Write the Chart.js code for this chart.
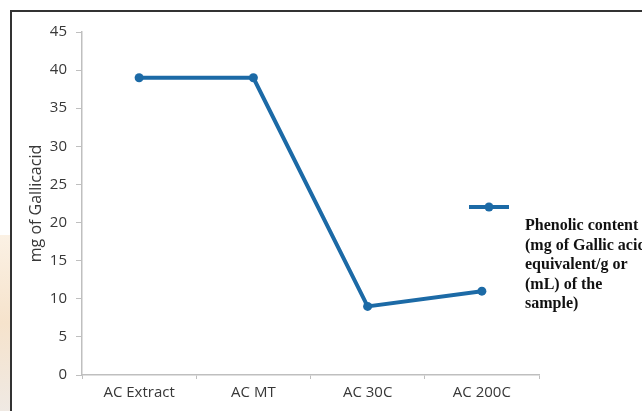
<!DOCTYPE html>
<html>
<head>
<meta charset="utf-8">
<script src="https://cdn.jsdelivr.net/npm/chart.js@4"></script>
<style>
    html, body { margin: 0; padding: 0; background: #ffffff; }
    #wrap { position: relative; width: 642px; height: 411px; overflow: hidden; }
    #frame { position: absolute; left: 10px; top: 10px; width: 700px; height: 500px; border-top: 2px solid #333333; border-left: 2px solid #333333; }
    #smear { position: absolute; left: 0; top: 235px; width: 10px; height: 176px; background: linear-gradient(#fbf1e4, #f6e3cc 50%, #efe9e3); }
    canvas { position: absolute; left: 0; top: 0; }
</style>
</head>
<body>
<div id="wrap">
    <div id="smear"></div>
    <div id="frame"></div>
    <canvas id="chart" width="642" height="411"></canvas>
</div>
<script>
const categories = ["AC Extract", "AC MT", "AC 30C", "AC 200C"];
const phenolicValues = [39, 39, 9, 11];
const seriesLabel = ["Phenolic content", "(mg of Gallic acid", "equivalent/g or", "(mL) of the", "sample)"];
const yTitle = "mg of Gallicacid";

const lineColor = "#1c6aa6";
const axisColor = "#bfbfbf";
const textColor = "#383838";
const tickFont = { family: "'Open Sans', Lato, sans-serif", size: 15 };

// legend drawn by hand: the series name wraps over five lines
const sideLegend = {
    id: "sideLegend",
    afterDraw(chart) {
        const ctx = chart.ctx;
        const dataset = chart.data.datasets[0];
        const x0 = 469;
        const y0 = 207;
        ctx.save();
        ctx.strokeStyle = dataset.borderColor;
        ctx.lineWidth = 4;
        ctx.beginPath();
        ctx.moveTo(x0, y0);
        ctx.lineTo(x0 + 40, y0);
        ctx.stroke();
        ctx.fillStyle = dataset.borderColor;
        ctx.beginPath();
        ctx.arc(x0 + 20, y0, 4.5, 0, Math.PI * 2);
        ctx.fill();

        ctx.fillStyle = "#111111";
        ctx.font = "bold 16px 'Liberation Serif', 'Times New Roman', serif";
        ctx.textBaseline = "middle";
        ctx.textAlign = "left";
        seriesLabel.forEach((line, i) => {
            ctx.fillText(line, 525, 226 + i * 19.5);
        });
        ctx.restore();
    },
};

new Chart(document.getElementById("chart"), {
    type: "line",
    data: {
        labels: categories,
        datasets: [
            {
                label: seriesLabel.join(" "),
                data: phenolicValues,
                borderColor: lineColor,
                backgroundColor: lineColor,
                borderWidth: 4,
                pointRadius: 4.5,
                pointBackgroundColor: lineColor,
                pointBorderWidth: 0,
                tension: 0,
            },
        ],
    },
    options: {
        responsive: false,
        animation: false,
        layout: { padding: { left: 0, top: 32, right: 103, bottom: 0 } },
        plugins: {
            legend: { display: false },
            tooltip: { enabled: false },
        },
        scales: {
            x: {
                offset: true,
                grid: {
                    offset: true,
                    drawOnChartArea: false,
                    drawTicks: true,
                    tickLength: 4,
                    color: axisColor,
                },
                border: { display: true, color: axisColor, width: 1.5 },
                ticks: { color: textColor, font: tickFont, padding: 5, maxRotation: 0 },
                afterFit(scale) {
                    scale.height = 36;
                },
            },
            y: {
                min: 0,
                max: 45,
                ticks: { stepSize: 5, color: textColor, font: tickFont, padding: 9 },
                grid: {
                    drawOnChartArea: false,
                    drawTicks: true,
                    tickLength: 6,
                    color: axisColor,
                },
                border: { display: true, color: axisColor, width: 1.5 },
                title: {
                    display: true,
                    text: yTitle,
                    color: textColor,
                    font: { family: "'Open Sans', Lato, sans-serif", size: 16 },
                    padding: { top: 27, bottom: 0 },
                },
                afterFit(scale) {
                    scale.width = 82;
                },
            },
        },
    },
    plugins: [sideLegend],
});
</script>
</body>
</html>
